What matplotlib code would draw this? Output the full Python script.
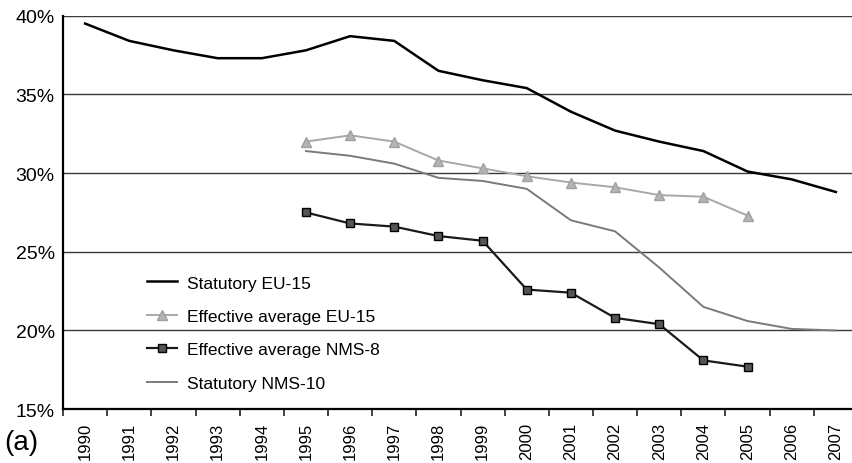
import matplotlib.pyplot as plt

plt.rcParams['font.family'] = ['Liberation Sans', 'DejaVu Sans']

years = list(range(1990, 2008))
year_labels = [str(y) for y in years]

# values in percent
statutory_eu15 = [39.5, 38.4, 37.8, 37.3, 37.3, 37.8, 38.7, 38.4, 36.5, 35.9,
                  35.4, 33.9, 32.7, 32.0, 31.4, 30.1, 29.6, 28.8]
eff_eu15_years = list(range(1995, 2006))
eff_eu15 = [32.0, 32.4, 32.0, 30.8, 30.3, 29.8, 29.4, 29.1, 28.6, 28.5, 27.3]
eff_nms8_years = list(range(1995, 2006))
eff_nms8 = [27.5, 26.8, 26.6, 26.0, 25.7, 22.6, 22.4, 20.8, 20.4, 18.1, 17.7]
stat_nms10_years = list(range(1995, 2008))
stat_nms10 = [31.4, 31.1, 30.6, 29.7, 29.5, 29.0, 27.0, 26.3, 24.0, 21.5, 20.6, 20.1, 20.0]

fig = plt.figure(figsize=(8.52, 4.64), dpi=100)
ax = fig.add_axes([0.074, 0.116, 0.933, 0.848])

def idx(ys):
    return [y - 1990 for y in ys]

ax.plot(idx(years), statutory_eu15, color='black', lw=1.8, label='Statutory EU-15', zorder=4)
ax.plot(idx(eff_eu15_years), eff_eu15, color='#a8a8a8', lw=1.4, marker='^', ms=7,
        mfc='#b4b4b4', mec='#a0a0a0', label='Effective average EU-15', zorder=4)
ax.plot(idx(eff_nms8_years), eff_nms8, color='#1a1a1a', lw=1.6, marker='s', ms=6,
        mfc='#555555', mec='black', label='Effective average NMS-8', zorder=4)
ax.plot(idx(stat_nms10_years), stat_nms10, color='#7a7a7a', lw=1.4, label='Statutory NMS-10', zorder=3)

ax.set_ylim(15, 40)
ax.set_xlim(-0.5, 17.5)
ax.set_yticks([15, 20, 25, 30, 35, 40])
ax.set_yticklabels(['15%', '20%', '25%', '30%', '35%', '40%'], fontsize=14)
ax.tick_params(axis='y', length=0, pad=6)
ax.yaxis.grid(True, color='#3a3a3a', lw=1.0)
ax.set_axisbelow(True)

ax.set_xticks(range(len(years)))
ax.set_xticklabels(year_labels, rotation=90, fontsize=12)
ax.set_xticks([i + 0.5 for i in range(-1, len(years))], minor=True)
ax.tick_params(axis='x', which='major', length=0, pad=9)
ax.tick_params(axis='x', which='minor', length=5, width=1.2, direction='out', color='#222222')

for s in ['top', 'right']:
    ax.spines[s].set_visible(False)
ax.spines['left'].set_linewidth(1.6)
ax.spines['bottom'].set_linewidth(1.6)

ax.legend(loc='upper left', bbox_to_anchor=(0.106, 0.34), frameon=False,
          fontsize=12.5, handlelength=1.7, handletextpad=0.6, labelspacing=1.05,
          borderpad=0, borderaxespad=0)

fig.text(0.005, 0.03, '(a)', fontsize=20)

fig.savefig('out.png', dpi=100)
